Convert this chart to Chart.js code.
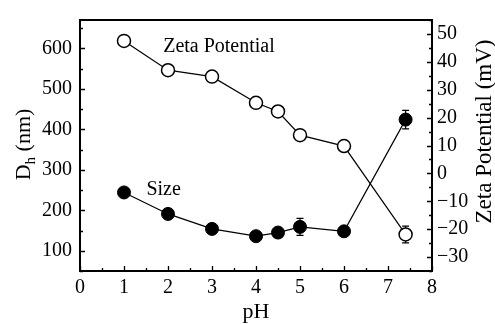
<!DOCTYPE html>
<html>
<head>
<meta charset="utf-8">
<script src="https://cdn.jsdelivr.net/npm/chart.js@4/dist/chart.umd.min.js"></script>
<style>
html,body{margin:0;padding:0;background:#fff;}
#wrap{width:495px;height:324px;position:relative;}
</style>
</head>
<body>
<div id="wrap"><canvas id="c" width="495" height="324"></canvas></div>
<script>
// ---- data ----
const pH = [1, 2, 3, 4, 4.5, 5, 6, 7.4];
const sizeNm = [244, 191, 154, 136, 145, 159, 148, 424];
const sizeErr = [0, 0, 0, 0, 8, 21, 0, 23];
const zetaMV = [47.5, 37, 34.7, 25.3, 22.2, 13.7, 9.8, -21.9];
const zetaErr = [0, 0, 0, 0, 0, 0, 0, 3];
const xTicks = [0, 1, 2, 3, 4, 5, 6, 7, 8];
const leftTicks = [100, 200, 300, 400, 500, 600];
const rightTicks = [-30, -20, -10, 0, 10, 20, 30, 40, 50];

const FONT = '"Liberation Serif", "Times New Roman", serif';

const framePlugin = {
  id: 'frame',
  beforeDatasetsDraw(chart) {
    const ctx = chart.ctx;
    const x = chart.scales.x, yl = chart.scales.y, yr = chart.scales.y1;
    ctx.save();
    ctx.strokeStyle = '#000';
    ctx.lineWidth = 1.2;
    function err(vals, errs, scale) {
      for (let i = 0; i < pH.length; i++) {
        if (!errs[i]) continue;
        const px = x.getPixelForValue(pH[i]);
        const t = scale.getPixelForValue(vals[i] + errs[i]);
        const b = scale.getPixelForValue(vals[i] - errs[i]);
        ctx.beginPath();
        ctx.moveTo(px, t); ctx.lineTo(px, b);
        ctx.moveTo(px - 3.5, t); ctx.lineTo(px + 3.5, t);
        ctx.moveTo(px - 3.5, b); ctx.lineTo(px + 3.5, b);
        ctx.stroke();
      }
    }
    err(sizeNm, sizeErr, yl);
    err(zetaMV, zetaErr, yr);
    ctx.restore();
  },
  afterDraw(chart) {
    const ctx = chart.ctx;
    const a = chart.chartArea;
    const x = chart.scales.x, yl = chart.scales.y, yr = chart.scales.y1;
    ctx.save();
    ctx.strokeStyle = '#000';
    ctx.lineWidth = 2;
    ctx.strokeRect(a.left, a.top, a.right - a.left, a.bottom - a.top);
    ctx.lineWidth = 1.3;
    ctx.beginPath();
    for (let v = x.min; v <= x.max + 1e-9; v += 0.5) {
      const p = Math.round(x.getPixelForValue(v)) + 0.5;
      const len = (Math.abs(v - Math.round(v)) < 1e-9) ? 5 : 3;
      ctx.moveTo(p, a.bottom); ctx.lineTo(p, a.bottom - len);
    }
    for (let v = 50; v <= yl.max + 1e-9; v += 50) {
      const p = Math.round(yl.getPixelForValue(v)) + 0.5;
      const len = (v % 100 === 0) ? 5 : 3;
      ctx.moveTo(a.left, p); ctx.lineTo(a.left + len, p);
    }
    for (let v = -35; v <= yr.max + 1e-9; v += 5) {
      const p = Math.round(yr.getPixelForValue(v)) + 0.5;
      const len = (v % 10 === 0) ? 5 : 3;
      ctx.moveTo(a.right, p); ctx.lineTo(a.right - len, p);
    }
    ctx.stroke();

    ctx.fillStyle = '#000';
    ctx.font = '20px ' + FONT;
    ctx.textAlign = 'left';
    ctx.textBaseline = 'alphabetic';
    ctx.fillText('Zeta Potential', x.getPixelForValue(1.89), yr.getPixelForValue(43.6));
    ctx.fillText('Size', x.getPixelForValue(1.51), yl.getPixelForValue(237));

    ctx.font = '22px ' + FONT;
    ctx.textAlign = 'center';
    ctx.fillText('pH', (a.left + a.right) / 2, 318);

    ctx.save();
    ctx.translate(30, (a.top + a.bottom) / 2 - 1);
    ctx.rotate(-Math.PI / 2);
    ctx.textAlign = 'left';
    const f1 = '22px ' + FONT, f2 = '15px ' + FONT;
    ctx.font = f1; const wD = ctx.measureText('D').width;
    ctx.font = f2; const wh = ctx.measureText('h').width;
    ctx.font = f1; const wr = ctx.measureText(' (nm)').width;
    let sx = -(wD + wh + wr) / 2;
    ctx.font = f1; ctx.fillText('D', sx, 0); sx += wD;
    ctx.font = f2; ctx.fillText('h', sx, 5); sx += wh;
    ctx.font = f1; ctx.fillText(' (nm)', sx, 0);
    ctx.restore();

    ctx.save();
    ctx.translate(491, (a.top + a.bottom) / 2 - 14);
    ctx.rotate(-Math.PI / 2);
    ctx.textAlign = 'center';
    ctx.font = '23px ' + FONT;
    ctx.fillText('Zeta Potential (mV)', 0, 0);
    ctx.restore();
    ctx.restore();
  }
};

new Chart(document.getElementById('c'), {
  type: 'line',
  data: {
    datasets: [
      {
        label: 'Zeta Potential',
        data: pH.map((v, i) => ({ x: v, y: zetaMV[i] })),
        yAxisID: 'y1',
        borderColor: '#000',
        borderWidth: 1.2,
        pointRadius: 6.5,
        pointBackgroundColor: '#fff',
        pointBorderColor: '#000',
        pointBorderWidth: 1.5,
        tension: 0
      },
      {
        label: 'Size',
        data: pH.map((v, i) => ({ x: v, y: sizeNm[i] })),
        yAxisID: 'y',
        borderColor: '#000',
        borderWidth: 1.2,
        pointRadius: 6.5,
        pointBackgroundColor: '#000',
        pointBorderColor: '#000',
        pointBorderWidth: 1,
        tension: 0
      }
    ]
  },
  options: {
    responsive: false,
    animation: false,
    layout: { padding: { top: 13, right: 0, left: 0, bottom: 0 } },
    plugins: { legend: { display: false }, tooltip: { enabled: false } },
    scales: {
      x: {
        type: 'linear', min: 0, max: 8,
        afterBuildTicks: s => { s.ticks = xTicks.map(v => ({ value: v })); },
        afterFit: s => { s.height = 53; },
        grid: { display: false, drawTicks: false },
        border: { display: false },
        ticks: { color: '#000', font: { family: FONT, size: 20 }, padding: 5, maxRotation: 0 }
      },
      y: {
        type: 'linear', position: 'left', min: 50, max: 670,
        afterBuildTicks: s => { s.ticks = leftTicks.map(v => ({ value: v })); },
        afterFit: s => { s.width = 80; },
        grid: { display: false, drawTicks: false },
        border: { display: false },
        ticks: { color: '#000', font: { family: FONT, size: 20 }, padding: 8 }
      },
      y1: {
        type: 'linear', position: 'right', min: -35, max: 55,
        afterBuildTicks: s => { s.ticks = rightTicks.map(v => ({ value: v })); },
        afterFit: s => { s.width = 63; },
        grid: { display: false, drawTicks: false },
        border: { display: false },
        ticks: {
          color: '#000', font: { family: FONT, size: 20 }, padding: 5,
          callback: v => (v < 0 ? '\u2212' + Math.abs(v) : String(v))
        }
      }
    }
  },
  plugins: [framePlugin]
});
</script>
</body>
</html>
